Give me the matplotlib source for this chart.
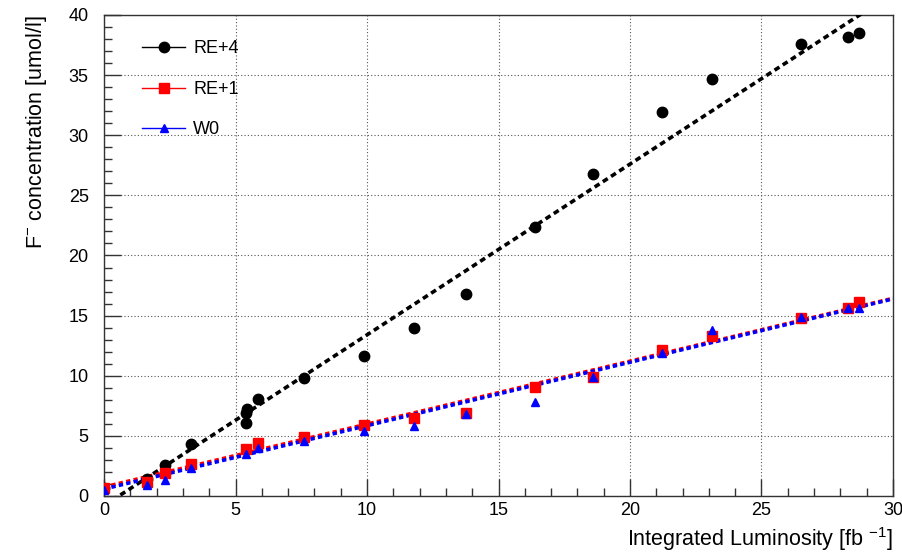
import numpy as np
import matplotlib
matplotlib.use("Agg")
import matplotlib.pyplot as plt
from matplotlib.ticker import MultipleLocator

plt.rcParams["font.family"] = ["Liberation Sans", "DejaVu Sans"]
plt.rcParams["mathtext.fontset"] = "custom"
plt.rcParams["mathtext.rm"] = "Liberation Sans"
plt.rcParams["mathtext.it"] = "Liberation Sans"

# ── data ─────────────────────────────────────────────────────────────────────
lumi = [0.0, 1.65, 2.3, 3.3, 5.4, 5.85, 7.6, 9.9, 11.8, 13.75,
        16.4, 18.6, 21.2, 23.1, 26.5, 28.3, 28.7]
re4_lumi = [0.0, 1.65, 2.3, 3.3, 5.4, 5.4, 5.45, 5.85, 7.6, 9.9, 11.8, 13.75,
            16.4, 18.6, 21.2, 23.1, 26.5, 28.3, 28.7]
re4 = [0.7, 1.4, 2.6, 4.3, 6.1, 6.9, 7.2, 8.1, 9.8, 11.6, 14.0, 16.8,
       22.4, 26.8, 31.9, 34.7, 37.6, 38.2, 38.5]
re1 = [0.7, 1.2, 1.9, 2.7, 3.9, 4.4, 4.9, 5.9, 6.5, 6.9,
       9.1, 9.9, 12.1, 13.3, 14.8, 15.6, 16.1]
w0 = [0.5, 0.9, 1.3, 2.3, 3.5, 4.0, 4.6, 5.4, 5.8, 6.8,
      7.8, 9.9, 11.9, 13.8, 14.9, 15.6, 15.6]

# linear fits (slope, intercept) as drawn in the reference
fit_re4 = (1.42, -0.8)
fit_re1 = (0.523, 0.75)
fit_w0 = (0.527, 0.58)

fig = plt.figure(figsize=(9.03, 5.53), dpi=100)
ax = fig.add_axes([0.1152, 0.1031, 0.8737, 0.8698])

xf = np.linspace(0, 30, 200)
ax.plot(xf, fit_re4[0] * xf + fit_re4[1], color="black", lw=2.6,
        ls=(0, (1.6, 1.1)), zorder=3)
ax.plot(xf, fit_re1[0] * xf + fit_re1[1], color="red", lw=2.6,
        ls=(0, (1.2, 0.9)), zorder=3)
ax.plot(xf, fit_w0[0] * xf + fit_w0[1], color="blue", lw=2.6,
        ls=(0, (1.2, 0.9)), zorder=3)

ax.plot(re4_lumi, re4, "o", color="black", ms=7.5, zorder=4, label="RE+4")
ax.plot(lumi, re1, "s", color="red", ms=6.5, zorder=4, label="RE+1")
ax.plot(lumi, w0, "^", color="blue", ms=6, zorder=5, label="W0")

ax.set_xlim(0, 30)
ax.set_ylim(0, 40)
ax.xaxis.set_major_locator(MultipleLocator(5))
ax.xaxis.set_minor_locator(MultipleLocator(1))
ax.yaxis.set_major_locator(MultipleLocator(5))
ax.yaxis.set_minor_locator(MultipleLocator(1))
ax.tick_params(which="both", direction="in", top=False, right=False,
               labelsize=13, color="#333333")
ax.tick_params(which="major", length=12, width=1.0)
ax.tick_params(axis="y", which="major", pad=11)
ax.tick_params(axis="x", which="major", pad=4)
ax.tick_params(which="minor", length=6, width=1.0)
ax.grid(True, which="major", color="#555555", ls=(0, (1, 2)), lw=0.8)
for s in ax.spines.values():
    s.set_color("#333333")
    s.set_linewidth(1.0)

ax.set_xlabel(r"Integrated Luminosity [fb $^{-1}$]", fontsize=15.5,
              loc="right", labelpad=5)
ax.set_ylabel(r"F$^{-}$ concentration [umol/l]", fontsize=15.5,
              loc="top", labelpad=14)

ax.legend(loc="upper left", bbox_to_anchor=(0.048, 0.947), frameon=False,
          fontsize=13, handlelength=2.4, handletextpad=0.45,
          labelspacing=1.3, numpoints=1, borderaxespad=0, borderpad=0)
leg = ax.get_legend()
for h in leg.legend_handles:
    h.set_linestyle("-")
    h.set_linewidth(1.0)

fig.savefig("out.png", dpi=100)
